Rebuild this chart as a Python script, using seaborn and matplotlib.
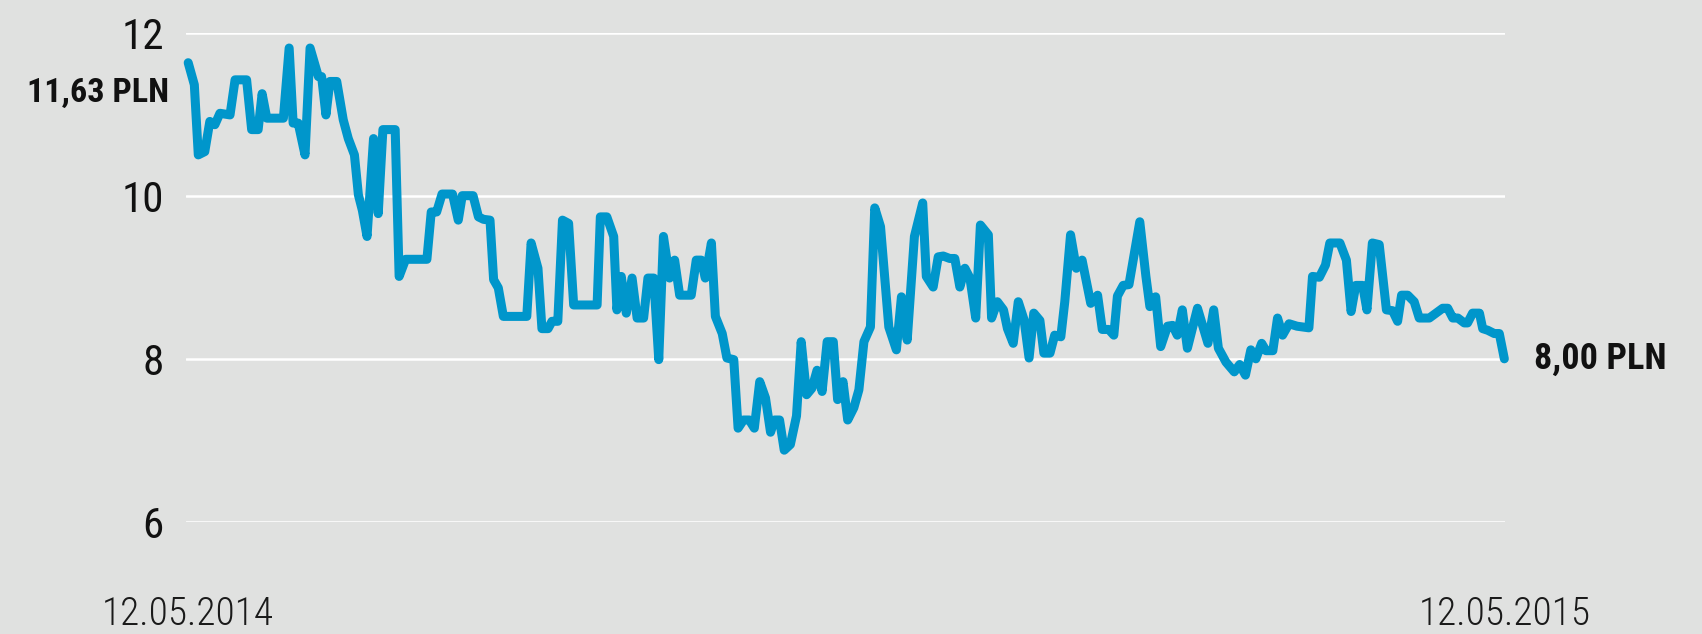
import matplotlib
matplotlib.use("Agg")
import matplotlib.pyplot as plt
from matplotlib import font_manager
import numpy as np
import pandas as pd
import seaborn as sns

# day offset from 12.05.2014 and share price (PLN)
DAYS = [
    0.0, 1.7, 2.8, 4.6, 6.0, 7.4, 8.8, 11.6, 13.0, 16.2, 17.6, 19.4, 20.5, 21.8,
    26.4, 28.0, 29.1, 30.5, 32.4, 33.8, 36.1, 37.0, 38.2, 39.3, 41.2, 43.0, 44.4,
    46.1, 47.2, 48.3, 49.6, 51.4, 52.7, 54.0, 57.4, 58.5, 60.3, 66.2, 67.4, 68.9,
    70.4, 73.3, 74.9, 76.0, 79.0, 80.5, 81.9, 83.7, 84.7, 86.0, 87.4, 93.9, 95.1,
    97.0, 98.1, 99.8, 100.9, 102.5, 103.8, 105.5, 106.9, 113.4, 114.3, 116.1,
    118.0, 118.9, 120.1, 121.5, 123.1, 124.5, 126.3, 127.5, 129.1, 130.5, 131.8,
    133.5, 134.9, 136.3, 139.5, 140.9, 142.3, 143.4, 145.1, 146.2, 148.1, 149.4,
    151.3, 152.5, 154.0, 155.6, 157.0, 158.5, 160.1, 161.5, 162.6, 164.0, 165.3,
    167.0, 168.7, 170.0, 171.5, 173.0, 174.4, 175.8, 177.2, 178.9, 180.1, 181.6,
    182.9, 184.6, 186.0, 187.4, 189.2, 190.4, 192.0, 194.3, 196.4, 197.8, 199.4,
    201.4, 203.7, 204.7, 206.6, 208.0, 209.4, 211.2, 212.6, 214.0, 215.4, 216.8,
    218.4, 219.7, 221.9, 222.8, 224.4, 226.1, 227.2, 228.8, 230.2, 231.8, 233.2,
    234.5, 236.2, 237.3, 239.0, 240.3, 242.0, 243.1, 244.7, 246.3, 247.9, 250.3,
    252.2, 253.5, 255.3, 256.7, 257.7, 259.3, 260.9, 263.9, 265.6, 266.7, 268.3,
    269.7, 271.6, 273.0, 274.3, 275.7, 277.1, 279.9, 282.8, 284.4, 285.7, 287.8,
    290.1, 291.6, 293.2, 294.7, 296.1, 297.7, 298.9, 300.8, 302.1, 303.5, 305.3,
    307.5, 310.8, 311.8, 313.7, 315.4, 316.6, 319.4, 321.2, 322.5, 323.8, 325.7,
    326.9, 328.4, 330.3, 332.3, 334.0, 335.4, 336.5, 338.2, 340.0, 341.4, 344.2,
    347.9, 349.3, 350.7, 352.1, 353.9, 354.8, 356.2, 358.1, 359.0, 360.4, 362.2,
    363.6, 365.0,
]
PRICES = [
    11.63, 11.36, 10.50, 10.54, 10.91, 10.87, 11.01, 10.99, 11.42, 11.42, 10.81,
    10.81, 11.25, 10.95, 10.95, 11.81, 10.89, 10.89, 10.50, 11.81, 11.46, 11.46,
    10.99, 11.40, 11.40, 10.93, 10.70, 10.50, 10.01, 9.82, 9.50, 10.70, 9.78,
    10.81, 10.81, 9.01, 9.22, 9.22, 9.80, 9.80, 10.02, 10.02, 9.70, 10.00, 10.00,
    9.74, 9.71, 9.70, 8.97, 8.87, 8.52, 8.52, 9.42, 9.11, 8.37, 8.37, 8.46, 8.46,
    9.70, 9.66, 8.66, 8.66, 9.74, 9.74, 9.50, 8.60, 9.01, 8.56, 8.99, 8.50, 8.50,
    8.99, 8.99, 7.99, 9.50, 8.99, 9.21, 8.78, 8.78, 9.21, 9.21, 8.99, 9.42, 8.52,
    8.31, 8.01, 7.99, 7.15, 7.25, 7.25, 7.15, 7.72, 7.52, 7.10, 7.25, 7.25, 6.88,
    6.95, 7.30, 8.21, 7.56, 7.64, 7.86, 7.60, 8.21, 8.21, 7.50, 7.72, 7.25, 7.40,
    7.62, 8.21, 8.39, 9.85, 9.62, 8.39, 8.11, 8.76, 8.23, 9.50, 9.91, 9.01, 8.88,
    9.25, 9.26, 9.23, 9.23, 8.88, 9.11, 8.99, 8.50, 9.64, 9.52, 8.50, 8.70, 8.60,
    8.37, 8.19, 8.70, 8.48, 8.01, 8.56, 8.47, 8.07, 8.07, 8.29, 8.27, 8.70, 9.52,
    9.11, 9.21, 8.68, 8.78, 8.36, 8.36, 8.29, 8.77, 8.90, 8.91, 9.68, 9.01, 8.64,
    8.76, 8.15, 8.40, 8.41, 8.29, 8.60, 8.13, 8.62, 8.19, 8.60, 8.13, 7.96, 7.84,
    7.93, 7.80, 8.11, 8.00, 8.19, 8.10, 8.10, 8.50, 8.29, 8.43, 8.40, 8.38, 9.01,
    9.00, 9.15, 9.42, 9.42, 9.21, 8.58, 8.90, 8.90, 8.60, 9.42, 9.40, 8.60, 8.59,
    8.46, 8.78, 8.78, 8.70, 8.50, 8.50, 8.62, 8.62, 8.50, 8.50, 8.44, 8.44, 8.56,
    8.56, 8.37, 8.35, 8.31, 8.31, 8.00,
]
Y_TICKS = [6, 8, 10, 12]
DATE_LABELS = ["12.05.2014", "12.05.2015"]
START_LABEL = "11,63 PLN"
END_LABEL = "8,00 PLN"

BG = "#e0e1e0"
LINE = "#0096cb"

sns.set_theme(style="white")

# look for a narrow face; otherwise fall back to DejaVu and fit by width
names = {f.name for f in font_manager.fontManager.ttflist}
narrow = None
for cand in ["Liberation Sans Narrow", "Roboto Condensed", "Open Sans Condensed",
             "DejaVu Sans Condensed"]:
    if cand in names:
        narrow = cand
        break
stretch = "normal"
if narrow is None:
    narrow = "DejaVu Sans"
    if any(f.name == "DejaVu Sans" and str(f.stretch) == "condensed"
           for f in font_manager.fontManager.ttflist):
        stretch = "condensed"

plt.rcParams["font.family"] = [narrow, "DejaVu Sans"]

df = pd.DataFrame({"day": DAYS, "price": PRICES})

fig = plt.figure(figsize=(17.02, 6.34), dpi=100, facecolor=BG)
ax = fig.add_axes([0.1093, 0.1767, 0.7752, 0.772])
ax.set_facecolor(BG)

for y in Y_TICKS:
    ax.axhline(y, color="white", lw=1.8, zorder=1)

sns.lineplot(data=df, x="day", y="price", ax=ax, color=LINE, lw=6.5,
             sort=False, estimator=None, zorder=3)
for line in ax.lines[len(Y_TICKS):]:
    line.set_solid_joinstyle("round")
    line.set_solid_capstyle("round")
    line.set_clip_on(False)

ax.set_xlim(-0.6, 365.3)
ax.set_ylim(6, 12)
ax.set_yticks(Y_TICKS)
ax.set_yticklabels([str(t) for t in Y_TICKS], fontsize=31, color="#111111",
                   fontstretch=stretch)
ax.set_xticks([DAYS[0], DAYS[-1]])
ax.set_xticklabels(DATE_LABELS, fontsize=26, color="#1a1a1a",
                   fontweight="light", fontstretch=stretch)
ax.tick_params(axis="y", length=0, pad=16)
ax.tick_params(axis="x", length=0, pad=53)
ax.set_xlabel("")
ax.set_ylabel("")
for s in ax.spines.values():
    s.set_visible(False)

t_start = ax.annotate(START_LABEL, xy=(DAYS[0], PRICES[0]), xytext=(-19, -30),
                      textcoords="offset pixels", ha="right", va="center",
                      fontsize=25, fontweight="bold", color="#111111",
                      fontstretch=stretch)
t_end = ax.annotate(END_LABEL, xy=(DAYS[-1], PRICES[-1]), xytext=(30, 0),
                    textcoords="offset pixels", ha="left", va="center",
                    fontsize=25, fontweight="bold", color="#111111",
                    fontstretch=stretch)


def fit_width(texts, target):
    renderer = fig.canvas.get_renderer()
    w = texts[0].get_window_extent(renderer).width
    scale = target / w
    for t in texts:
        t.set_fontsize(t.get_fontsize() * scale)


fit_width([t_start], 142)
fit_width([t_end], 132)
fit_width(ax.get_xticklabels(), 172)

fig.savefig("out.png", dpi=100, facecolor=BG)
